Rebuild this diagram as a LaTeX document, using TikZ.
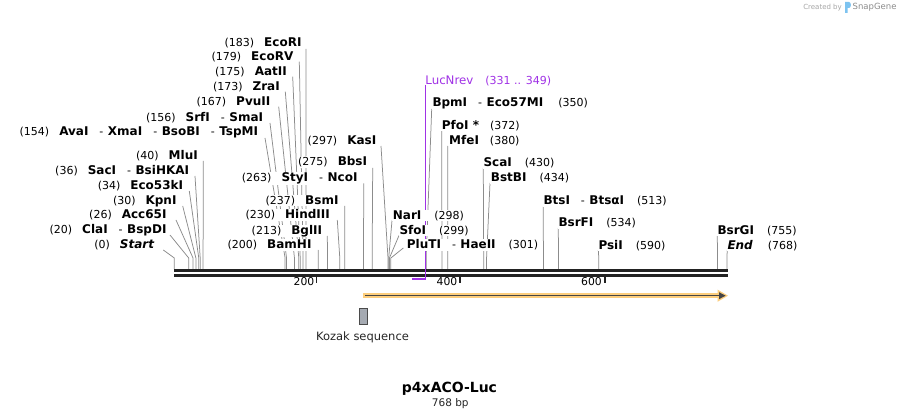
\documentclass[tikz,border=0pt]{standalone}
\usepackage{fontspec}
\setmainfont{DejaVu Sans}
\definecolor{sitegray}{RGB}{140,140,140}
\definecolor{prim}{RGB}{160,50,230}
\definecolor{orangeF}{RGB}{253,206,125}
\definecolor{darkF}{RGB}{70,70,70}
\definecolor{kozakF}{RGB}{165,170,178}
\definecolor{kozakD}{RGB}{75,75,75}
\definecolor{axisC}{RGB}{34,34,34}
\definecolor{logoC}{RGB}{125,195,240}
\newcommand\B[1]{{\fontsize{12}{13}\selectfont\bfseries #1}}
\newcommand\BI[1]{{\fontsize{12}{13}\selectfont\bfseries\itshape #1}}
\newcommand\D{\hspace{11pt}-\hspace{4.5pt}}
\newcommand\G{\hspace{10pt}}
\newcommand\R{\hspace{13pt}}
\tikzset{
  site/.style={draw=sitegray, line width=0.75pt},
  labl/.style={font=\fontsize{11}{13}\selectfont, fill=white, inner xsep=1pt, inner ysep=0.5pt, text=black},
  ruler/.style={font=\fontsize{10.8}{13}\selectfont, inner sep=0pt, anchor=base east, text=black},
  tick/.style={draw=axisC, line width=1.5pt},
}
\begin{document}
\begin{tikzpicture}[x=1pt,y=-1pt]
\useasboundingbox (0,0) rectangle (902,419);
\fill[white] (0,0) rectangle (902,419);

% ---------- site lines ----------
\foreach \ax/\ay/\bp in {
 306/49/183, 299.3/61.7/179, 292.7/76.7/175, 285.3/91.7/173, 278.7/106.7/167,
 270/123/156, 265/138/154,
 203.3/161/40, 195/176/36, 189.3/191/34, 182.7/206/30, 176/220/26, 170/235/20, 163.3/250/0,
 381/146/297, 372.7/168/275, 363.7/183.5/263, 344.7/206/237, 337.3/220/230, 327.3/236/213, 318.3/250/200,
 392/220.5/298, 399/235.5/299, 403.3/248/301,
 431.7/109/350, 441.7/131/372, 447.7/146/380, 483.3/168/430, 490/183/434,
 543.3/206.7/513, 558.3/228/534, 598.3/250/590, 717.3/236/755, 727.3/250/768}
{
  \coordinate (a\bp) at (\ax,\ay);
  \coordinate (k\bp) at ({174.3+0.7195*\bp},258);
  \coordinate (s\bp) at ({174.3+0.7195*\bp},269.5);
  \draw[site] (a\bp) -- (k\bp) -- (s\bp);
}

% ---------- axis ----------
\fill[axisC] (174,269.3) rectangle (728.3,272.3);
\fill[axisC] (174,274) rectangle (728.3,276.6);
\coordinate (t200) at (316.7,276);
\coordinate (t400) at (460,276);
\coordinate (t600) at (605,276);
\draw[tick] (t200) -- ++(0,7);
\draw[tick] (t400) -- ++(0,7);
\draw[tick] (t600) -- ++(0,7);
\node[ruler] (r200) at (314.5,285.6) {200};
\node[ruler] (r400) at (457.5,285.6) {400};
\node[ruler] (r600) at (602,285.6) {600};

% ---------- primer ----------
\coordinate (pTop) at (425.5,85);
\coordinate (pBot) at (425.5,279.8);
\coordinate (pL) at (412.3,278.8);
\coordinate (pR) at (426.1,278.8);
\draw[prim, line width=1.1pt] (pTop) -- (pBot);
\draw[prim, line width=2.2pt] (pL) -- (pR);
\node[font=\fontsize{11.8}{13}\selectfont, text=prim, inner sep=0pt, anchor=base west] (lucn) at (425.2,84.2) {LucNrev\hspace{12pt}{\fontsize{11}{13}\selectfont(331 .. 349)}};

% ---------- feature arrow ----------
\coordinate (fS) at (363.3,295.7);
\coordinate (fE) at (720,295.7);
\draw[orangeF, line width=5pt] (fS) -- (fE);
\fill[orangeF] (717.5,289.6) -- (728,295.7) -- (717.5,301.8) -- cycle;
\draw[darkF, line width=1.6pt] (365,295.7) -- (721,295.7);
\fill[darkF] (719,292.2) -- (725.6,295.7) -- (719,299.2) -- cycle;

% ---------- Kozak ----------
\node[draw=kozakD, fill=kozakF, line width=0.8pt, minimum width=8pt, minimum height=15.7pt, inner sep=0pt] (koz) at (363.3,316.2) {};
\node[font=\fontsize{11.5}{13}\selectfont, text=black!85, inner sep=0pt] (kozl) at (362.5,337.5) {Kozak sequence};

% ---------- left-type labels (number, name) ----------
\node[labl, anchor=base east] (lEcoRI) at (302.7,46.6) {(183)\G\B{EcoRI}};
\node[labl, anchor=base east] (lEcoRV) at (294.5,61) {(179)\G\B{EcoRV}};
\node[labl, anchor=base east] (lAatII) at (288,76) {(175)\G\B{AatII}};
\node[labl, anchor=base east] (lZraI) at (281,91) {(173)\G\B{ZraI}};
\node[labl, anchor=base east] (lPvuII) at (271.5,106) {(167)\G\B{PvuII}};
\node[labl, anchor=base east] (lSmaI) at (264.3,121.3) {(156)\G\B{SrfI}\D\B{SmaI}};
\node[labl, anchor=base east] (lAvaI) at (259.3,136) {(154)\G\B{AvaI}\D\B{XmaI}\D\B{BsoBI}\D\B{TspMI}};
\node[labl, anchor=base east] (lMluI) at (199,159.3) {(40)\G\B{MluI}};
\node[labl, anchor=base east] (lSacI) at (190.3,174.3) {(36)\G\B{SacI}\D\B{BsiHKAI}};
\node[labl, anchor=base east] (lEco53) at (184.3,189.3) {(34)\G\B{Eco53kI}};
\node[labl, anchor=base east] (lKpnI) at (177.7,204.3) {(30)\G\B{KpnI}};
\node[labl, anchor=base east] (lAcc65) at (167.7,218.5) {(26)\G\B{Acc65I}};
\node[labl, anchor=base east] (lClaI) at (167.7,233.8) {(20)\G\B{ClaI}\D\B{BspDI}};
\node[labl, anchor=base east] (lStart) at (155.3,248.6) {(0)\G\BI{Start}};
\node[labl, anchor=base east] (lKasI) at (377.5,144.3) {(297)\G\B{KasI}};
\node[labl, anchor=base east] (lBbsI) at (368.3,166) {(275)\G\B{BbsI}};
\node[labl, anchor=base east] (lNcoI) at (358.7,181.6) {(263)\G\B{StyI}\D\B{NcoI}};
\node[labl, anchor=base east] (lBsmI) at (339.7,204.3) {(237)\G\B{BsmI}};
\node[labl, anchor=base east] (lHind) at (331,218.8) {(230)\G\B{HindIII}};
\node[labl, anchor=base east] (lBglII) at (323.3,234.3) {(213)\G\B{BglII}};
\node[labl, anchor=base east] (lBamHI) at (312.7,248.6) {(200)\G\B{BamHI}};

% ---------- right-type labels (name, number) ----------
\node[labl, anchor=base west] (lNarI) at (391.7,219.3) {\B{NarI}\R(298)};
\node[labl, anchor=base west] (lSfoI) at (398.3,234.3) {\B{SfoI}\R(299)};
\node[labl, anchor=base west] (lPluTI) at (405.7,248.6) {\B{PluTI}\D\B{HaeII}\R(301)};
\node[labl, anchor=base west] (lBpmI) at (431.3,106.6) {\B{BpmI}\D\B{Eco57MI}\hspace{15pt}(350)};
\node[labl, anchor=base west] (lPfoI) at (440.7,129.3) {\B{PfoI *}\hspace{11pt}(372)};
\node[labl, anchor=base west] (lMfeI) at (448,144.3) {\B{MfeI}\hspace{11pt}(380)};
\node[labl, anchor=base west] (lScaI) at (482.3,167) {\B{ScaI}\R(430)};
\node[labl, anchor=base west] (lBstBI) at (489.7,181.6) {\B{BstBI}\R(434)};
\node[labl, anchor=base west] (lBtsI) at (542.3,205) {\B{BtsI}\D\B{BtsαI}\R(513)};
\node[labl, anchor=base west] (lBsrFI) at (557.3,227) {\B{BsrFI}\R(534)};
\node[labl, anchor=base west] (lPsiI) at (597.3,249.3) {\B{PsiI}\R(590)};
\node[labl, anchor=base west] (lBsrGI) at (716.3,234.3) {\B{BsrGI}\R(755)};
\node[labl, anchor=base west] (lEnd) at (726.3,249.3) {\BI{End}\hspace{15pt}(768)};

% ---------- title ----------
\node[font=\fontsize{14}{16}\selectfont\bfseries, inner sep=0pt] (title) at (449.5,389) {p4xACO-Luc};
\node[font=\fontsize{10.5}{12}\selectfont, text=black!85, inner sep=0pt] (bp) at (450.3,403.5) {768 bp};

% ---------- credit ----------
\node[font=\fontsize{7}{8}\selectfont, text=black!35, inner sep=0pt, anchor=east] (cb) at (842,7.5) {Created by};
\fill[logoC] (845,2) -- (849,2) .. controls (851.5,2) and (851.5,8) .. (849,8) -- (847.5,8) -- (847.5,13) -- (845,13) -- cycle;
\node[font=\fontsize{8.5}{9}\selectfont, text=black!45, inner sep=0pt, anchor=west] (sg) at (852.5,7.5) {SnapGene};
\end{tikzpicture}
\end{document}
